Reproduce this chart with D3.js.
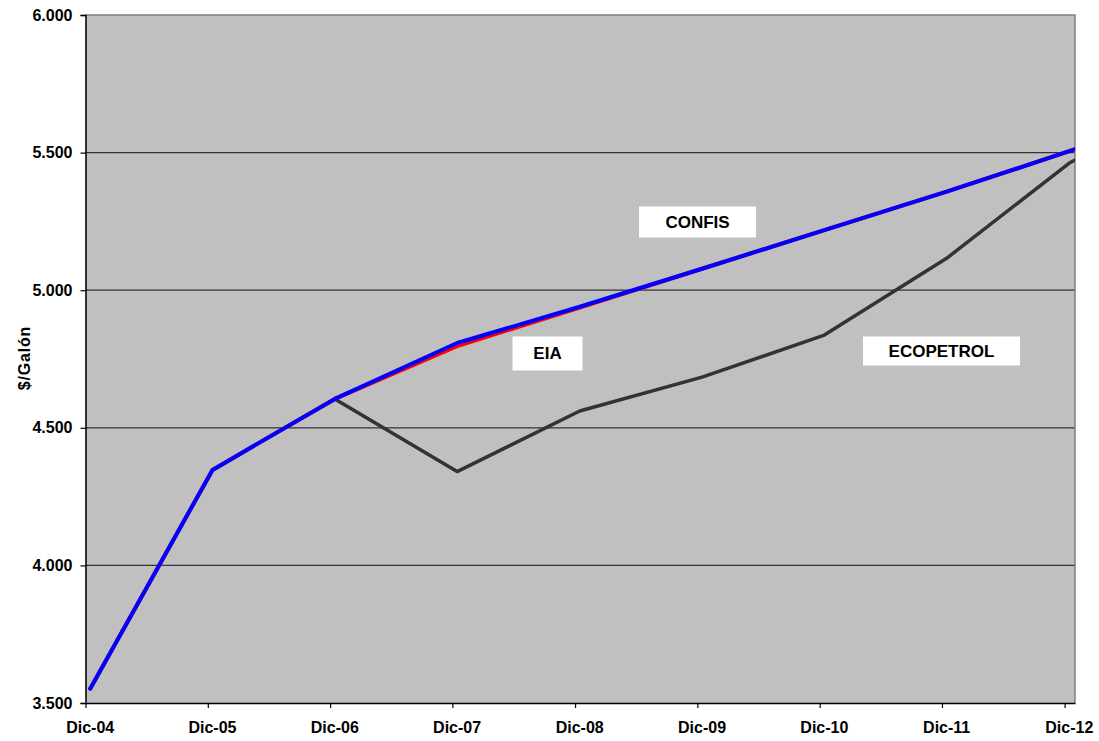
<!DOCTYPE html>
<html>
<head>
<meta charset="utf-8">
<script src="https://cdn.jsdelivr.net/npm/d3@7/dist/d3.min.js"></script>
<style>
  html, body { margin: 0; padding: 0; background: #ffffff; }
  svg { display: block; }
  text { font-family: "Liberation Sans", Arial, sans-serif; font-weight: bold; fill: #000; }
</style>
</head>
<body>
<svg id="chart" width="1099" height="741"></svg>
<script>
// ---- data ----
const dates = ["2004-12-15","2005-12-15","2006-12-15","2007-12-15","2008-12-15",
               "2009-12-15","2010-12-15","2011-12-15","2012-12-15","2012-12-31"];
const tickLabels = ["Dic-04","Dic-05","Dic-06","Dic-07","Dic-08","Dic-09","Dic-10","Dic-11","Dic-12"];
const tickDates = ["2004-12-01","2005-12-01","2006-12-01","2007-12-01","2008-12-01",
                   "2009-12-01","2010-12-01","2011-12-01","2012-12-01"];
const labelDates = ["2004-12-15","2005-12-15","2006-12-15","2007-12-15","2008-12-15",
                    "2009-12-15","2010-12-15","2011-12-15","2012-12-15"];
const eia       = [3552, 4347, 4605, 4797, 4937, 5078, 5218, 5358, 5505, 5512];
const confis    = [3552, 4347, 4605, 4808, 4940, 5078, 5218, 5358, 5505, 5512];
const ecopetrol = [null, null, 4605, 4341, 4561, 4684, 4837, 5116, 5462, 5472];
const yTicks = [3500, 4000, 4500, 5000, 5500, 6000];
const seriesNames = ["EIA", "CONFIS", "ECOPETROL"];

// ---- layout ----
const svg = d3.select("#chart");
const pLeft = 85.5, pRight = 1075, pTop = 15, pBottom = 703;
const parse = d3.timeParse("%Y-%m-%d");

const x = d3.scaleTime()
  .domain([parse("2004-12-01"), parse("2013-01-01")])
  .range([pLeft, pRight]);
const y = d3.scaleLinear().domain([3500, 6000]).range([pBottom, pTop]);

const locale = d3.formatLocale({decimal: ",", thousands: ".", grouping: [3], currency: ["$", ""]});
const fmt = locale.format(",.0f");

// plot background
svg.append("rect")
  .attr("x", pLeft).attr("y", pTop)
  .attr("width", pRight - pLeft).attr("height", pBottom - pTop)
  .attr("fill", "#c0c0c0");

// gridlines
svg.append("g").selectAll("line")
  .data(yTicks.filter(v => v > 3500 && v < 6000))
  .join("line")
  .attr("x1", pLeft).attr("x2", pRight)
  .attr("y1", d => y(d)).attr("y2", d => y(d))
  .attr("stroke", "#333").attr("stroke-width", 1.2);

// top & right border
svg.append("path")
  .attr("d", `M${pLeft},${y(6000)}H${pRight}V${pBottom}`)
  .attr("fill", "none").attr("stroke", "#808080").attr("stroke-width", 1.5);

// Y axis
const yAxis = d3.axisLeft(y).tickValues(yTicks).tickFormat(fmt).tickSize(5).tickPadding(8);
const gy = svg.append("g").attr("transform", `translate(${pLeft},0)`).call(yAxis);
gy.select(".domain").attr("stroke", "#000").attr("stroke-width", 1.5);
gy.selectAll(".tick line").attr("stroke", "#000").attr("stroke-width", 1.2);
gy.selectAll(".tick text").style("font-size", "16px").style("font-weight", "bold")
  .attr("font-family", "Liberation Sans, Arial, sans-serif").attr("fill", "#000");

// X axis: ticks
const xAxis = d3.axisBottom(x).tickValues(tickDates.map(parse)).tickFormat("").tickSize(5).tickSizeOuter(0);
const gx = svg.append("g").attr("transform", `translate(0,${pBottom})`).call(xAxis);
gx.select(".domain").attr("stroke", "#000").attr("stroke-width", 1.5);
gx.selectAll(".tick line").attr("stroke", "#000").attr("stroke-width", 1.2);

// X labels (centered on data points)
svg.append("g").selectAll("text")
  .data(tickLabels)
  .join("text")
  .attr("x", (d, i) => x(parse(labelDates[i])))
  .attr("y", 733)
  .attr("text-anchor", "middle")
  .style("font-size", "16px")
  .text(d => d);

// Y axis title
svg.append("text")
  .attr("transform", `translate(30,358) rotate(-90)`)
  .attr("text-anchor", "middle")
  .style("font-size", "16px")
  .style("letter-spacing", "0.8px")
  .text("$/Galón");

// lines
const pts = arr => arr.map((v, i) => ({d: parse(dates[i]), v}));
const line = d3.line().defined(p => p.v != null).x(p => x(p.d)).y(p => y(p.v));
const series = [
  {name: seriesNames[2], values: ecopetrol, color: "#333333", w: 3.5},
  {name: seriesNames[0], values: eia, color: "#ff0000", w: 4},
  {name: seriesNames[1], values: confis, color: "#0000ff", w: 4}
];
svg.append("defs").append("clipPath").attr("id", "clip")
  .append("rect").attr("x", pLeft).attr("y", pTop).attr("width", pRight - pLeft).attr("height", pBottom - pTop);
svg.append("g").attr("clip-path", "url(#clip)")
  .selectAll("path").data(series).join("path")
  .attr("d", s => line(pts(s.values)))
  .attr("fill", "none")
  .attr("stroke", s => s.color)
  .attr("stroke-width", s => s.w)
  .attr("stroke-linejoin", "round")
  .attr("stroke-linecap", "round");

// series labels in white boxes
const labels = [
  {text: seriesNames[1], cx: 697.5, cy: 222, w: 117, h: 31},
  {text: seriesNames[0], cx: 547.5, cy: 353.5, w: 70, h: 34},
  {text: seriesNames[2], cx: 941.5, cy: 351, w: 157, h: 29}
];
const lg = svg.append("g").selectAll("g").data(labels).join("g");
lg.append("rect")
  .attr("x", d => d.cx - d.w / 2).attr("y", d => d.cy - d.h / 2)
  .attr("width", d => d.w).attr("height", d => d.h)
  .attr("fill", "#ffffff");
lg.append("text")
  .attr("x", d => d.cx).attr("y", d => d.cy)
  .attr("dy", "0.35em")
  .attr("text-anchor", "middle")
  .style("font-size", "17px")
  .text(d => d.text);
</script>
</body>
</html>
